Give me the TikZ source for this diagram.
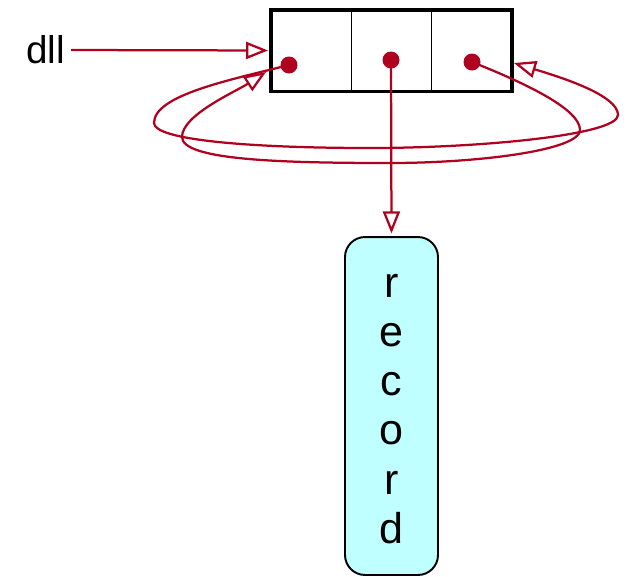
\documentclass[tikz,border=0pt]{standalone}
\usepackage{fontspec}
\setmainfont{Liberation Sans}
\usetikzlibrary{arrows.meta,positioning}
\definecolor{llred}{RGB}{176,0,32}
\definecolor{llcyan}{RGB}{192,255,255}
\tikzset{
  llcell/.style={
    draw=black, line width=1.1pt, inner sep=0pt, outer sep=0pt,
    minimum width=1.62cm, minimum height=1.64cm
  },
  llframe/.style={draw=black, line width=0.08cm},
  lldot/.style={circle, fill=llred, inner sep=0pt, minimum size=0.34cm},
  llrecord/.style={
    draw=black, fill=llcyan, line width=1.1pt, rounded corners=0.4cm,
    minimum width=1.86cm, minimum height=6.76cm
  },
  llrecordtext/.style={align=center, inner sep=0pt,
    font=\fontsize{24.5pt}{28pt}\selectfont},
  lllabel/.style={font=\fontsize{22pt}{26pt}\selectfont},
  lledge/.style={
    draw=llred, line width=0.045cm,
    -{Triangle[length=0.44cm,width=0.34cm,fill=white]}
  }
}

\begin{document}
\begin{tikzpicture}[x=0.02cm,y=-0.02cm]
  \useasboundingbox (0,0) rectangle (629,576);
  % list header: three cells in a thick frame
  \node[llcell] (c1) at (311,50.5) {};
  \node[llcell,minimum width=1.6cm,right=0pt of c1] (c2) {};
  \node[llcell,right=0pt of c2] (c3) {};
  \draw[llframe] (c1.north west) rectangle (c3.south east);
  \node[lldot] (dl) at (289,65) {};
  \node[lldot] (dm) at (391,60) {};
  \node[lldot] (dr) at (472,62) {};
  \coordinate (lin) at (266,72);
  \coordinate (rin) at (514,63);

  % payload
  \node[llrecord] (record) at (391.5,406) {};
  \node[llrecordtext] (recordtext) at (391.5,409) {r\\e\\c\\o\\r\\d};
  \node[lllabel] (dll) at (45.5,50) {dll};

  % pointers
  \draw[lledge,shorten >=0.05cm] (dll.east) -- (c1.west);
  \draw[lledge,shorten >=1.5pt] (dm.center) -- (record.north);
  \draw[lledge] (dl.center) .. controls (230,80) and (154,95) .. (154,123)
    .. controls (154,140) and (250,148) .. (370,148)
    .. controls (480,148) and (618,135) .. (618,115)
    .. controls (618,95) and (560,77) .. (rin);
  \draw[lledge] (dr.center) .. controls (530,85) and (580,110) .. (580,130)
    .. controls (580,150) and (480,163) .. (390,163)
    .. controls (280,163) and (182,160) .. (182,137)
    .. controls (182,115) and (235,92) .. (lin);
\end{tikzpicture}
\end{document}
